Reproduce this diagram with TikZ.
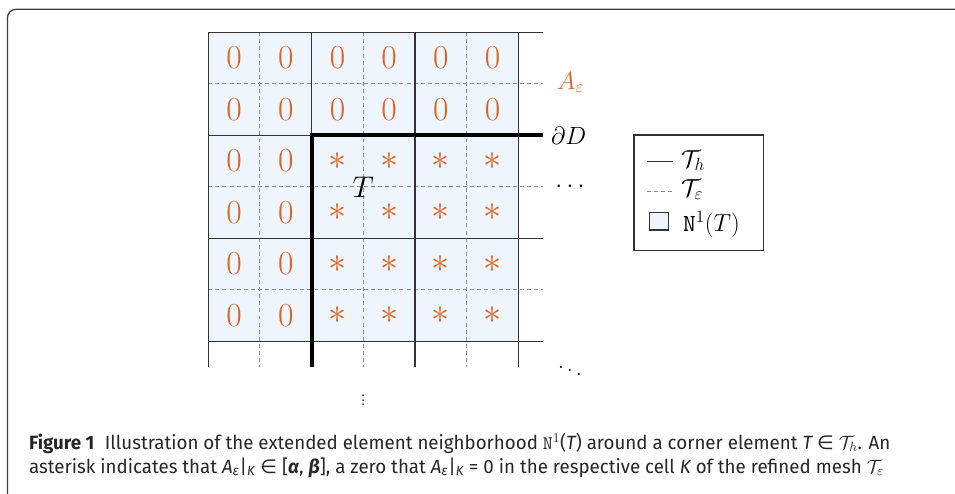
\RequirePackage{fix-cm}
\documentclass[tikz,border=0pt]{standalone}
\usepackage{fontspec}
\newfontfamily\capfont[FakeStretch=0.975]{Fira Sans}
\newfontfamily\dejavu{DejaVu Sans}
\definecolor{orng}{HTML}{DE6326}
\definecolor{cellblue}{HTML}{EEF5FD}
\tikzset{
  solidline/.style={black!80, line width=0.9pt},
  dashline/.style={black!45, line width=0.8pt, dash pattern=on 3.3pt off 2.6pt},
  boundary/.style={black, line width=3.3pt},
  zero/.style={text=orng, font=\fontsize{28}{32}\selectfont, inner sep=0pt},
  star/.style={text=orng, font=\fontsize{30}{34}\selectfont, inner sep=0pt},
  lbl/.style={inner sep=0pt},
  legtext/.style={inner sep=0pt, anchor=base west, font=\fontsize{20.5}{24}\selectfont},
  captext/.style={inner sep=0pt, anchor=base west, text=black!85, font=\capfont\fontsize{16}{19}\selectfont},
  frame/.style={black!75, line width=1.1pt, rounded corners=7pt}
}
\begin{document}
\begin{tikzpicture}[x=0.83333pt,y=-0.83333pt]
\useasboundingbox (0,0) rectangle (955,493);
% outer frame
\draw[frame] (7.5,520) -- (7.5,9.3) -- (980,9.3);
% neighbourhood fill
\fill[cellblue] (208.3,32.3) rectangle (518.3,341.3);
% fine mesh
\foreach \i in {1,3,5}
  \draw[dashline] ({208.3+51.67*\i},32.3) -- ({208.3+51.67*\i},366.7);
\foreach \j in {1,3,5}
  \draw[dashline] (208.3,{32.3+51.5*\j}) -- (543,{32.3+51.5*\j});
% coarse mesh
\foreach \i in {0,2,4,6}
  \draw[solidline] ({208.3+51.67*\i},32.3) -- ({208.3+51.67*\i},366.7);
\foreach \j in {0,2,4,6}
  \draw[solidline] (208.3,{32.3+51.5*\j}) -- (543,{32.3+51.5*\j});
% boundary
\coordinate (bdR) at (543,135.3);
\coordinate (bdC) at (311.7,135.3);
\coordinate (bdB) at (311.7,366.7);
\draw[boundary] (bdR) -- (bdC) -- (bdB);
% cell entries
\foreach \j in {0,1}
  \foreach \i in {0,...,5}
    \node[zero] (z-\i-\j) at ({208.3+51.67*(\i+0.5)},{32.3+51.5*(\j+0.5)}) {0};
\foreach \j in {2,...,5}
  \foreach \i in {0,1}
    \node[zero] (z-\i-\j) at ({208.3+51.67*(\i+0.5)},{32.3+51.5*(\j+0.5)}) {0};
\foreach \j in {2,...,5}
  \foreach \i in {2,...,5}
    \node[star] (s-\i-\j) at ({208.3+51.67*(\i+0.5)},{32.3+51.5*(\j+0.5)}) {$\ast$};
% labels
\node[lbl, font=\Huge] (T) at (363.3,186.8) {$T$};
\node[lbl, anchor=base west, text=orng, font=\huge] (Aeps) at (557,89) {$A_\varepsilon$};
\node[lbl, anchor=base west, font=\huge] (dD) at (551,144) {$\partial D$};
\node[lbl, font=\huge] (hdots) at (570,187) {$\cdots$};
\node[lbl, font=\huge] (ddots) at (570,367) {$\ddots$};
\node[lbl, font=\Large] (vdots) at (363.3,396.7) {$\vdots$};
% legend
\draw[solidline] (634,135) rectangle (763.3,250.7);
\coordinate (l1a) at (646.7,161.7); \coordinate (l1b) at (672.7,161.7);
\coordinate (l2a) at (646.7,191); \coordinate (l2b) at (672.7,191);
\draw[solidline] (l1a) -- (l1b);
\draw[dashline] (l2a) -- (l2b);
\draw[solidline, fill=cellblue] (649.3,212.7) rectangle (668.3,230);
\node[legtext] (lTh) at (681,167) {$\mathcal{T}_h$};
\node[legtext] (lTe) at (681,196) {$\mathcal{T}_\varepsilon$};
\node[legtext] (lN) at (683,231) {$\mathtt{N}^1(T)$};
% caption
\node[captext] (cap1) at (29,449) {{\bfseries Figure 1}\hspace{0.55em}Illustration of the extended element neighborhood $\mathtt{N}^1$({\itshape T}) around a corner element {\itshape T} {\dejavu ∈} $\mathcal{T}_h$. An};
\node[captext] (cap2) at (29,473) {asterisk indicates that {\itshape A}\textsubscript{\itshape ε}|\textsubscript{\itshape K} {\dejavu ∈} [{\bfseries\itshape α}, {\bfseries\itshape β}], a zero that {\itshape A}\textsubscript{\itshape ε}|\textsubscript{\itshape K} = 0 in the respective cell {\itshape K} of the refined mesh $\mathcal{T}_\varepsilon$};
\end{tikzpicture}
\end{document}
